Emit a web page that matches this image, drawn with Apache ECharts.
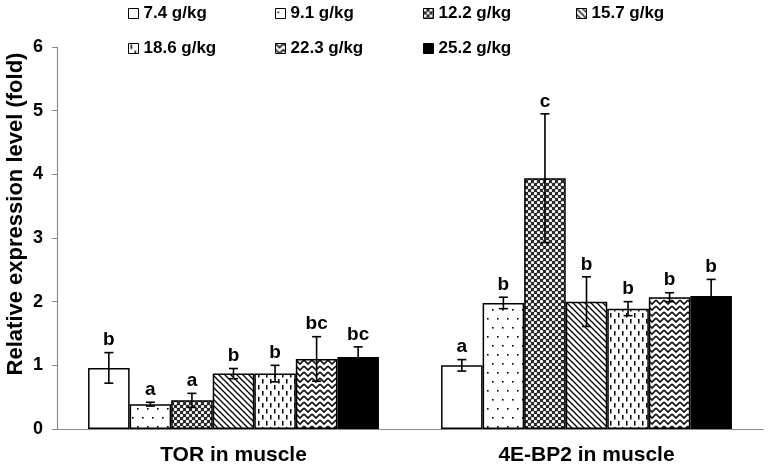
<!DOCTYPE html>
<html>
<head>
<meta charset="utf-8">
<script src="https://cdn.jsdelivr.net/npm/echarts@6/dist/echarts.min.js"></script>
<style>html,body{margin:0;padding:0;background:#fff}#c{width:772px;height:469px}</style>
</head>
<body>
<div id="c"></div>
<script>
// ---- data ----
var categories = ['TOR in muscle', '4E-BP2 in muscle'];
var doses = ['7.4 g/kg', '9.1 g/kg', '12.2 g/kg', '15.7 g/kg', '18.6 g/kg', '22.3 g/kg', '25.2 g/kg'];
var torMean = [0.96, 0.39, 0.45, 0.87, 0.87, 1.10, 1.13];
var torErr  = [0.24, 0.03, 0.11, 0.08, 0.13, 0.35, 0.16];
var torSig  = ['b', 'a', 'a', 'b', 'b', 'bc', 'bc'];
var bp2Mean = [1.00, 1.98, 3.94, 2.00, 1.89, 2.07, 2.09];
var bp2Err  = [0.09, 0.09, 1.01, 0.39, 0.11, 0.07, 0.26];
var bp2Sig  = ['a', 'b', 'c', 'b', 'b', 'b', 'b'];
var yTicks  = [0, 1, 2, 3, 4, 5, 6];

// ---- patterns ----
function cv(w, h, bg) {
  var c = document.createElement('canvas'); c.width = w; c.height = h;
  var ctx = c.getContext('2d'); ctx.fillStyle = bg; ctx.fillRect(0, 0, w, h);
  return [c, ctx];
}
function patWhite() { return '#ffffff'; }
function patDots() {
  var r = cv(10, 18, '#fff'), ctx = r[1];
  ctx.fillStyle = '#000'; ctx.fillRect(2, 3, 1.6, 1.6); ctx.fillRect(7, 12, 1.6, 1.6);
  return {image: r[0], repeat: 'repeat'};
}
function patMesh() {
  var r = cv(6, 6, '#2a2a2a'), ctx = r[1];
  ctx.fillStyle = '#fff';
  ctx.beginPath(); ctx.arc(1.5, 1.5, 1.6, 0, Math.PI * 2); ctx.fill();
  ctx.beginPath(); ctx.arc(4.5, 4.5, 1.6, 0, Math.PI * 2); ctx.fill();
  return {image: r[0], repeat: 'repeat'};
}
function patDiag() {
  var s = 6, r = cv(s, s, '#fff'), ctx = r[1];
  ctx.strokeStyle = '#000'; ctx.lineWidth = 1.3;
  ctx.beginPath();
  ctx.moveTo(0, 0); ctx.lineTo(s, s);
  ctx.moveTo(-1, s - 1); ctx.lineTo(1, s + 1);
  ctx.moveTo(s - 1, -1); ctx.lineTo(s + 1, 1);
  ctx.stroke();
  return {image: r[0], repeat: 'repeat'};
}
function patDash() {
  var r = cv(8, 12, '#fff'), ctx = r[1];
  ctx.fillStyle = '#000';
  ctx.fillRect(2, 1, 1.5, 4.5); ctx.fillRect(6, 7, 1.5, 4.5);
  return {image: r[0], repeat: 'repeat'};
}
function patZig() {
  var r = cv(8, 6, '#fff'), ctx = r[1];
  ctx.strokeStyle = '#111'; ctx.lineWidth = 1.6;
  ctx.beginPath();
  ctx.moveTo(0, 0); ctx.lineTo(4, 4); ctx.lineTo(8, 0);
  ctx.moveTo(0, 6); ctx.lineTo(4, 10); ctx.lineTo(8, 6);
  ctx.moveTo(0, -6); ctx.lineTo(4, -2); ctx.lineTo(8, -6);
  ctx.stroke();
  return {image: r[0], repeat: 'repeat'};
}
var fills = [patWhite(), patDots(), patMesh(), patDiag(), patDash(), patZig(), '#000000'];

var GAP = 0.176;
var N = doses.length;

var series = doses.map(function (d, i) {
  return {
    name: d, type: 'bar', barGap: '0%', barCategoryGap: (GAP * 100) + '%',
    data: [torMean[i], bp2Mean[i]],
    itemStyle: {color: fills[i], borderColor: '#000', borderWidth: 1.5},
    emphasis: {disabled: true}, animation: false
  };
});

var errData = [], sigLabels = [];
for (var i = 0; i < N; i++) {
  errData.push([0, i, torMean[i], torErr[i]]); sigLabels.push(torSig[i]);
  errData.push([1, i, bp2Mean[i], bp2Err[i]]); sigLabels.push(bp2Sig[i]);
}

series.push({
  type: 'custom', name: 'err', animation: false, silent: true, z: 10,
  data: errData,
  encode: {x: 0, y: 2},
  renderItem: function (params, api) {
    var cat = api.value(0), s = api.value(1), v = api.value(2), e = api.value(3);
    var band = api.size([1, 0])[0];
    var bw = band * (1 - GAP) / N;
    var cx = api.coord([cat, 0])[0] + (s - (N - 1) / 2) * bw;
    var yt = api.coord([cat, v + e])[1];
    var yb = api.coord([cat, v - e])[1];
    var st = {stroke: '#000', lineWidth: 1.6};
    var cap = 4.5;
    return {
      type: 'group',
      children: [
        {type: 'line', shape: {x1: cx, y1: yt, x2: cx, y2: yb}, style: st},
        {type: 'line', shape: {x1: cx - cap, y1: yt, x2: cx + cap, y2: yt}, style: st},
        {type: 'line', shape: {x1: cx - cap, y1: yb, x2: cx + cap, y2: yb}, style: st},
        {type: 'text', x: cx, y: yt - 3, style: {
          text: sigLabels[params.dataIndex], fill: '#000',
          font: 'bold 19px "Liberation Sans", Arial, sans-serif',
          align: 'center', verticalAlign: 'bottom'}}
      ]
    };
  }
});

var legendPos = [[128, 5], [275, 5], [423, 5], [576, 5], [128, 40], [275, 40], [423, 40]];
var legends = doses.map(function (d, i) {
  return {
    data: [d], left: legendPos[i][0], top: legendPos[i][1], padding: 0,
    itemWidth: 10, itemHeight: 10, icon: 'rect', selectedMode: false,
    textStyle: {fontSize: 17, fontWeight: 'bold', color: '#000', fontFamily: '"Liberation Sans", Arial, sans-serif'},
    itemStyle: {borderColor: '#000', borderWidth: 1}
  };
});

var chart = echarts.init(document.getElementById('c'), null, {renderer: 'canvas'});
chart.setOption({
  backgroundColor: '#fff',
  animation: false,
  legend: legends,
  grid: {left: 57, right: 9, top: 47, bottom: 40, containLabel: false},
  xAxis: {
    type: 'category', data: categories,
    axisLine: {lineStyle: {color: '#8a8a8a', width: 1.2}},
    axisTick: {length: 6, lineStyle: {color: '#8a8a8a'}},
    axisLabel: {fontSize: 21, fontWeight: 'bold', color: '#000', margin: 16,
      fontFamily: '"Liberation Sans", Arial, sans-serif'}
  },
  yAxis: {
    type: 'value', min: yTicks[0], max: yTicks[yTicks.length - 1], interval: 1,
    splitLine: {show: false},
    axisLine: {show: true, lineStyle: {color: '#8a8a8a', width: 1.2}},
    axisTick: {show: true, length: 5, lineStyle: {color: '#8a8a8a'}},
    axisLabel: {fontSize: 18, fontWeight: 'bold', color: '#000', margin: 14,
      fontFamily: '"Liberation Sans", Arial, sans-serif'}
  },
  graphic: [{
    type: 'text', x: 16, y: 214, rotation: Math.PI / 2,
    style: {text: 'Relative expression level (fold)', fill: '#000',
      font: 'bold 22px "Liberation Sans", Arial, sans-serif',
      align: 'center', verticalAlign: 'middle'}
  }],
  series: series
});
</script>
</body>
</html>
